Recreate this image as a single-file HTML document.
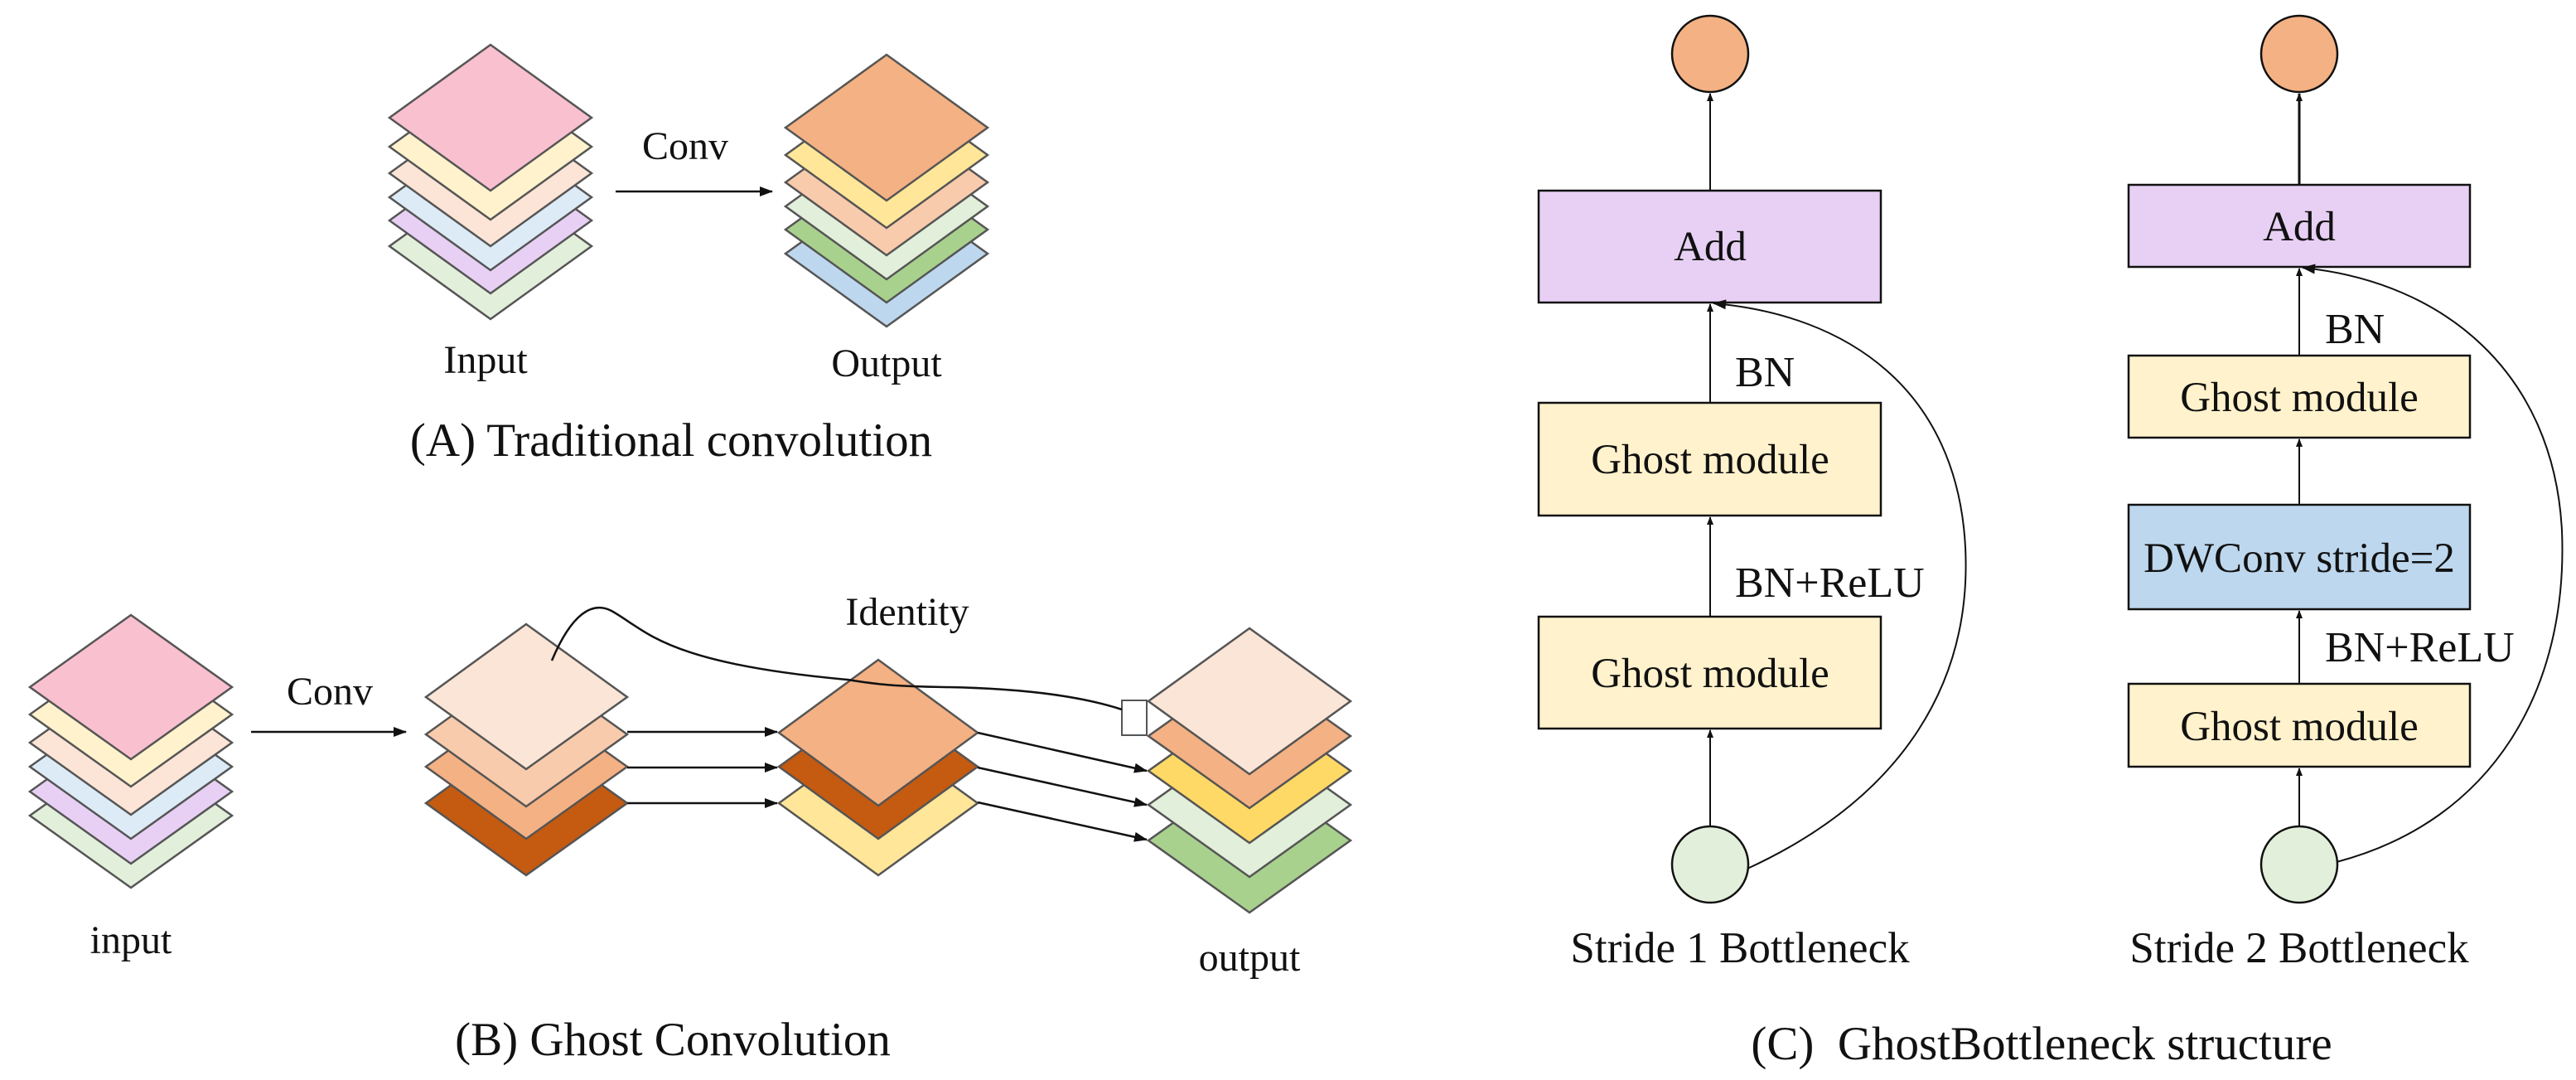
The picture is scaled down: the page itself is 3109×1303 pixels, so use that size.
<!DOCTYPE html>
<html><head><meta charset="utf-8"><style>
html,body{margin:0;padding:0;background:#fff;}
svg{display:block;}
text{font-family:"Liberation Serif","Times New Roman",serif;fill:#111;}
</style></head><body>
<svg width="3109" height="1303" viewBox="0 0 3109 1303" xmlns="http://www.w3.org/2000/svg">
<defs>
<marker id="ah" markerWidth="10" markerHeight="8" refX="9" refY="4" orient="auto" markerUnits="userSpaceOnUse"><path d="M0,0 L10,4 L0,8 Z" fill="#111"/></marker>
<marker id="ah2" markerWidth="16" markerHeight="12" refX="15" refY="6" orient="auto" markerUnits="userSpaceOnUse"><path d="M0,0 L16,6 L0,12 Z" fill="#111"/></marker>
</defs>
<g stroke="#555" stroke-width="2.5">
<polygon points="470,297 592,209 714,297 592,385" fill="#E2EFDA"/>
<polygon points="470,266 592,178 714,266 592,354" fill="#E8D0F5"/>
<polygon points="470,238 592,150 714,238 592,326" fill="#DDEBF7"/>
<polygon points="470,209 592,121 714,209 592,297" fill="#FCE4D6"/>
<polygon points="470,177 592,89 714,177 592,265" fill="#FFF2CC"/>
<polygon points="470,142 592,54 714,142 592,230" fill="#F9C0D0"/>
<polygon points="948,306 1070,218 1192,306 1070,394" fill="#BDD7EE"/>
<polygon points="948,277 1070,189 1192,277 1070,365" fill="#A9D18E"/>
<polygon points="948,249 1070,161 1192,249 1070,337" fill="#E2EFDA"/>
<polygon points="948,220 1070,132 1192,220 1070,308" fill="#F8CBAD"/>
<polygon points="948,187 1070,99 1192,187 1070,275" fill="#FFE699"/>
<polygon points="948,154 1070,66 1192,154 1070,242" fill="#F4B183"/>
<polygon points="36,984 158,897 280,984 158,1071" fill="#E2EFDA"/>
<polygon points="36,955 158,868 280,955 158,1042" fill="#E8D0F5"/>
<polygon points="36,925 158,838 280,925 158,1012" fill="#DDEBF7"/>
<polygon points="36,896 158,809 280,896 158,983" fill="#FCE4D6"/>
<polygon points="36,862 158,775 280,862 158,949" fill="#FFF2CC"/>
<polygon points="36,829 158,742 280,829 158,916" fill="#F9C0D0"/>
<polygon points="514,969 635,882 757,969 635,1056" fill="#C55A11"/>
<polygon points="514,925 635,838 757,925 635,1012" fill="#F4B183"/>
<polygon points="514,886 635,799 757,886 635,973" fill="#F8CBAD"/>
<polygon points="514,841 635,753 757,841 635,928" fill="#FBE5D6"/>
<polygon points="940,969 1060,882 1180,969 1060,1056" fill="#FFE699"/>
<polygon points="940,925 1060,838 1180,925 1060,1012" fill="#C55A11"/>
<polygon points="940,884 1060,796 1180,884 1060,972" fill="#F4B183"/>
<polygon points="1386,1014 1508,927 1630,1014 1508,1101" fill="#A9D18E"/>
<polygon points="1386,971 1508,884 1630,971 1508,1058" fill="#E2EFDA"/>
<polygon points="1386,930 1508,843 1630,930 1508,1017" fill="#FFD966"/>
<polygon points="1386,888 1508,801 1630,888 1508,975" fill="#F4B183"/>
<polygon points="1386,846 1508,758 1630,846 1508,934" fill="#FBE5D6"/>
<rect x="1354" y="845" width="30" height="42" fill="#fff" stroke-width="2"/>
</g>
<g stroke="#111" stroke-width="2.5" fill="none">
<line x1="743" y1="231" x2="932" y2="231" marker-end="url(#ah2)"/>
<line x1="303" y1="883" x2="490" y2="883" marker-end="url(#ah2)"/>
<line x1="757" y1="883" x2="938" y2="883" marker-end="url(#ah2)"/>
<line x1="757" y1="926" x2="938" y2="926" marker-end="url(#ah2)"/>
<line x1="757" y1="969" x2="938" y2="969" marker-end="url(#ah2)"/>
<line x1="1180" y1="884" x2="1384" y2="930" marker-end="url(#ah2)"/>
<line x1="1180" y1="926" x2="1384" y2="971" marker-end="url(#ah2)"/>
<line x1="1180" y1="968" x2="1384" y2="1013" marker-end="url(#ah2)"/>
<path d="M666,797 C690,740 715,725 738,737 C780,760 800,800 1023,820 C1060,826 1080,828 1140,829 C1260,831 1320,845 1354,856"/>
</g>
<g stroke="#111" stroke-width="2.5">
<rect x="1857" y="230" width="413" height="135" fill="#E8D0F5"/>
<rect x="1857" y="486" width="413" height="136" fill="#FFF2CC"/>
<rect x="1857" y="744" width="413" height="135" fill="#FFF2CC"/>
<circle cx="2064" cy="65" r="46" fill="#F4B183"/>
<circle cx="2064" cy="1043" r="46" fill="#E2EFDA"/>
<rect x="2569" y="223" width="412" height="99" fill="#E8D0F5"/>
<rect x="2569" y="429" width="412" height="99" fill="#FFF2CC"/>
<rect x="2569" y="609" width="412" height="126" fill="#BDD7EE"/>
<rect x="2569" y="825" width="412" height="100" fill="#FFF2CC"/>
<circle cx="2775" cy="65" r="46" fill="#F4B183"/>
<circle cx="2775" cy="1043" r="46" fill="#E2EFDA"/>
</g>
<g stroke="#111" stroke-width="2" fill="none">
<line x1="2064" y1="230" x2="2064" y2="113" marker-end="url(#ah)"/>
<line x1="2064" y1="486" x2="2064" y2="367" marker-end="url(#ah)"/>
<line x1="2064" y1="744" x2="2064" y2="624" marker-end="url(#ah)"/>
<line x1="2064" y1="997" x2="2064" y2="881" marker-end="url(#ah)"/>
<path d="M2109,1048 C2300,960 2380,820 2372,660 C2362,470 2230,380 2068,366" marker-end="url(#ah2)"/>
<line x1="2775" y1="223" x2="2775" y2="113" stroke-width="3" marker-end="url(#ah)"/>
<line x1="2775" y1="429" x2="2775" y2="324" marker-end="url(#ah)"/>
<line x1="2775" y1="609" x2="2775" y2="530" marker-end="url(#ah)"/>
<line x1="2775" y1="825" x2="2775" y2="737" marker-end="url(#ah)"/>
<line x1="2775" y1="997" x2="2775" y2="927" marker-end="url(#ah)"/>
<path d="M2820,1040 C3010,990 3100,830 3092,640 C3082,450 2950,340 2779,323" marker-end="url(#ah2)"/>
</g>
<g font-size="48">
<text x="827" y="192" text-anchor="middle">Conv</text>
<text x="586" y="450" text-anchor="middle">Input</text>
<text x="1070" y="454" text-anchor="middle">Output</text>
<text x="810" y="550" text-anchor="middle" font-size="57">(A) Traditional convolution</text>
<text x="398" y="850" text-anchor="middle">Conv</text>
<text x="1095" y="754" text-anchor="middle">Identity</text>
<text x="158" y="1150" text-anchor="middle">input</text>
<text x="1508" y="1171" text-anchor="middle">output</text>
<text x="812" y="1273" text-anchor="middle" font-size="57">(B) Ghost Convolution</text>
<g font-size="51">
<text x="2064" y="314" text-anchor="middle">Add</text>
<text x="2064" y="571" text-anchor="middle">Ghost module</text>
<text x="2064" y="829" text-anchor="middle">Ghost module</text>
<text x="2775" y="290" text-anchor="middle">Add</text>
<text x="2775" y="496" text-anchor="middle">Ghost module</text>
<text x="2775" y="690" text-anchor="middle">DWConv stride=2</text>
<text x="2775" y="893" text-anchor="middle">Ghost module</text>
</g>
<g font-size="52">
<text x="2094" y="466">BN</text>
<text x="2094" y="720">BN+ReLU</text>
<text x="2806" y="414">BN</text>
<text x="2806" y="798">BN+ReLU</text>
</g>
<g font-size="53">
<text x="2100" y="1161" text-anchor="middle">Stride 1 Bottleneck</text>
<text x="2775" y="1161" text-anchor="middle">Stride 2 Bottleneck</text>
</g>
<text x="2464" y="1278" text-anchor="middle" font-size="57" xml:space="preserve">(C)  GhostBottleneck structure</text>
</g>
</svg>
</body></html>
